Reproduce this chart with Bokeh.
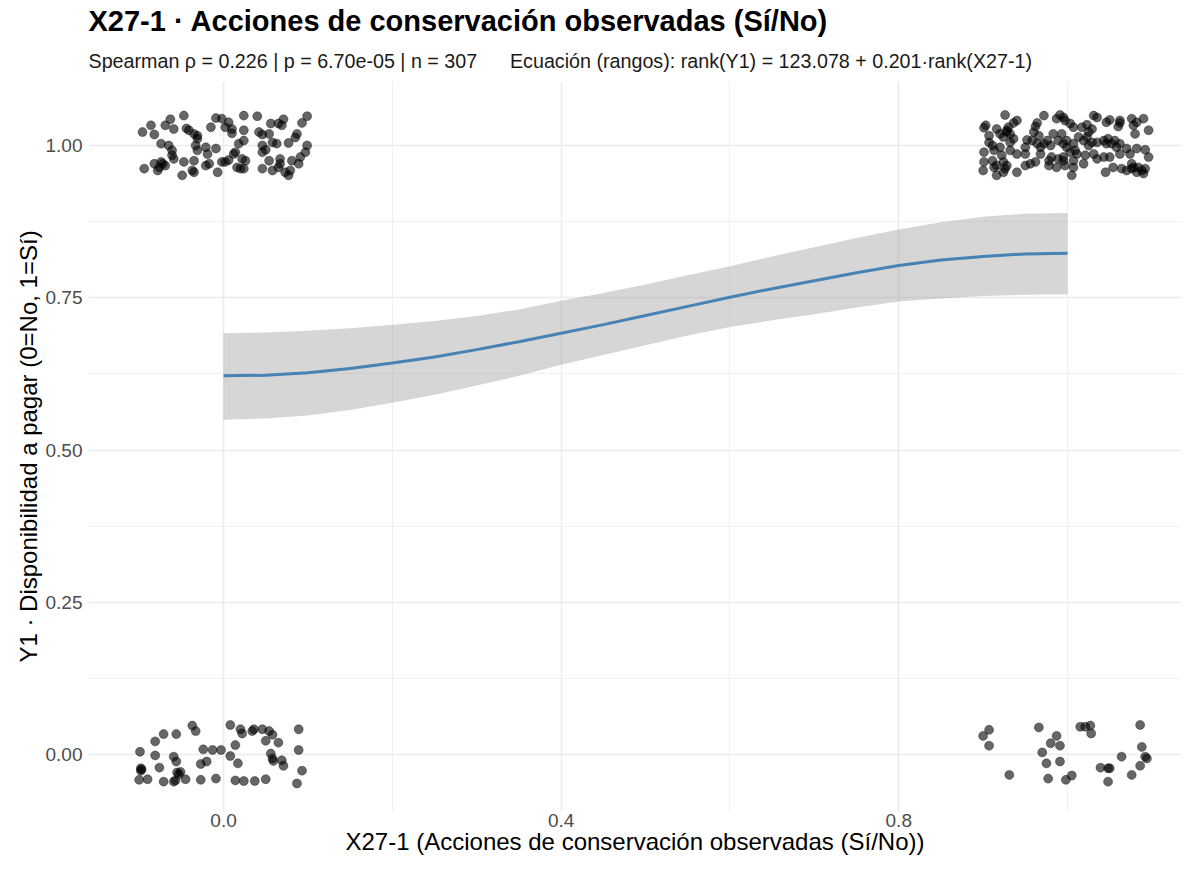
from bokeh.plotting import figure
from bokeh.models import Range1d, FixedTicker, NumeralTickFormatter, Title
from bokeh.embed import file_html
from bokeh.resources import INLINE

# ---------------- data ----------------
title_text = "X27-1 · Acciones de conservación observadas (Sí/No)"
subtitle_text = ("Spearman ρ = 0.226 | p = 6.70e-05 | n = 307"
                 "\u00a0\u00a0\u00a0\u00a0\u00a0\u00a0"
                 "Ecuación (rangos): rank(Y1) = 123.078 + 0.201·rank(X27-1)")
x_label = "X27-1 (Acciones de conservación observadas (Sí/No))"
y_label = "Y1 · Disponibilidad a pagar (0=No, 1=Sí)"

x_ticks = [0.0, 0.4, 0.8]
x_minor = [0.2, 0.6, 1.0]
y_ticks = [0.0, 0.25, 0.5, 0.75, 1.0]
y_minor = [0.125, 0.375, 0.625, 0.875]

# jittered observations: group value + jitter offset
# x=0, y=1
tl_dx = [-0.047, -0.063, -0.009, -0.002, 0.024, 0.040, 0.099, 0.071, 0.065, 0.056,
         0.069, 0.093, 0.006, -0.086, -0.096, -0.082, -0.069, -0.059, -0.044, 0.010,
         0.024, -0.015, 0.002, -0.035, -0.031, -0.041, 0.046, 0.087, 0.085, -0.074,
         -0.065, -0.061, -0.033, -0.031, -0.021, -0.009, 0.018, 0.012, 0.046, 0.058,
         0.063, 0.077, 0.046, 0.050, 0.097, 0.091, 0.081, 0.067, 0.054, 0.022,
         0.026, 0.006, -0.002, -0.017, -0.019, -0.035, -0.047, -0.059, -0.069, -0.076,
         -0.078, -0.094, -0.082, -0.072, -0.037, -0.049, -0.035, -0.007, 0.002, 0.016,
         0.020, 0.024, 0.046, 0.058, 0.065, 0.073, 0.077, 0.079, 0.089, 0.099,
         -0.031, 0.010, -0.074, -0.061, 0.014, 0.042, 0.024, -0.021, 0.067, 0.054]
tl_dy = [0.049, 0.043, 0.045, 0.044, 0.049, 0.048, 0.048, 0.043, 0.036, 0.036,
         0.033, 0.037, 0.038, 0.033, 0.022, 0.018, 0.033, 0.027, 0.028, 0.020,
         0.025, 0.030, 0.030, 0.019, 0.011, 0.025, 0.018, 0.019, 0.013, 0.003,
         0.000, -0.008, 0.000, -0.008, -0.003, -0.005, 0.003, -0.014, 0.000, 0.005,
         0.003, 0.004, -0.011, -0.007, -0.011, -0.019, -0.025, -0.022, -0.025, -0.022,
         -0.025, -0.024, -0.027, -0.030, -0.014, -0.025, -0.027, -0.022, -0.033, -0.036,
         -0.041, -0.038, -0.030, -0.030, -0.041, -0.049, -0.044, -0.044, -0.027, -0.036,
         -0.038, -0.038, -0.038, -0.041, -0.036, -0.044, -0.049, -0.041, -0.030, 0.000,
         0.016, 0.027, -0.027, -0.016, -0.011, 0.022, 0.008, -0.033, -0.030, 0.019]
# x=1, y=1
tr_dx = [-0.074, -0.060, -0.064, -0.028, -0.009, -0.005, 0.003, 0.007, -0.036, -0.038,
         -0.097, -0.099, -0.084, -0.070, -0.072, 0.031, 0.035, 0.046, 0.050, 0.062,
         0.060, 0.076, 0.078, 0.090, 0.080, 0.096, 0.029, 0.025, 0.017, 0.023,
         -0.093, -0.089, -0.076, -0.068, -0.064, -0.048, -0.050, -0.042, -0.040, -0.034,
         -0.028, -0.032, -0.020, -0.017, -0.007, -0.011, -0.005, -0.001, 0.007, 0.011,
         0.003, 0.013, 0.019, 0.025, 0.035, 0.043, 0.048, 0.052, 0.056, 0.062,
         0.070, 0.082, 0.092, 0.096, 0.074, 0.062, -0.099, -0.087, -0.078, -0.068,
         -0.060, -0.050, -0.032, -0.019, -0.022, -0.011, -0.005, 0.007, 0.021, 0.031,
         0.035, 0.043, 0.050, -0.099, -0.089, -0.087, -0.100, -0.084, -0.076, -0.074,
         -0.060, -0.050, -0.044, -0.038, -0.022, -0.013, -0.003, 0.005, 0.007, 0.019,
         0.045, 0.054, 0.064, 0.070, 0.078, 0.082, 0.088, 0.092, 0.076, -0.080,
         -0.072, -0.068, -0.080, -0.076, -0.072, -0.013, -0.003, -0.036, -0.024, -0.001,
         0.009, 0.023, 0.029, 0.046, 0.058, 0.076, 0.084, 0.090, 0.062, 0.082,
         -0.005, -0.084, -0.093]
tr_dy = [0.050, 0.041, 0.037, 0.049, 0.050, 0.046, 0.036, 0.030, 0.037, 0.031,
         0.033, 0.029, 0.027, 0.030, 0.022, 0.049, 0.046, 0.038, 0.042, 0.037,
         0.031, 0.044, 0.033, 0.044, 0.019, 0.025, 0.027, 0.022, 0.030, 0.034,
         0.005, 0.000, 0.014, 0.019, 0.011, 0.009, -0.003, 0.008, 0.022, 0.016,
         0.003, -0.003, 0.000, 0.019, 0.019, 0.008, 0.003, -0.003, 0.003, -0.014,
         -0.011, 0.014, 0.008, 0.000, 0.005, 0.008, 0.011, 0.003, 0.008, 0.003,
         -0.005, -0.005, -0.007, -0.019, -0.014, -0.014, -0.011, -0.008, -0.016, -0.008,
         -0.014, -0.014, -0.014, -0.019, -0.025, -0.022, -0.019, -0.025, -0.016, -0.014,
         -0.022, -0.019, -0.019, -0.027, -0.025, -0.036, -0.041, -0.049, -0.044, -0.038,
         -0.044, -0.033, -0.030, -0.027, -0.033, -0.036, -0.033, -0.049, -0.036, -0.030,
         -0.044, -0.036, -0.038, -0.041, -0.036, -0.044, -0.041, -0.038, -0.030, 0.019,
         0.025, 0.005, -0.003, -0.027, -0.033, 0.044, 0.041, 0.003, 0.008, 0.008,
         -0.008, 0.014, 0.005, 0.003, -0.003, -0.038, -0.036, -0.046, 0.041, 0.038,
         -0.025, -0.033, 0.016]
# x=0, y=0
bl_dx = [-0.037, -0.033, 0.008, 0.020, 0.022, 0.036, 0.034, 0.046, 0.054, 0.058,
         0.050, 0.065, 0.089, -0.071, -0.056, -0.081, -0.099, -0.081, -0.059, -0.056,
         -0.076, -0.098, -0.098, -0.090, -0.100, -0.071, -0.059, -0.057, -0.051, -0.053,
         -0.045, -0.027, -0.020, -0.024, -0.013, -0.003, 0.008, 0.014, 0.017, -0.027,
         -0.009, 0.014, 0.024, 0.037, 0.050, 0.056, 0.058, 0.059, 0.069, 0.071,
         0.089, 0.093, 0.087, -0.097, -0.055]
bl_dy = [0.048, 0.039, 0.049, 0.042, 0.035, 0.042, 0.039, 0.042, 0.039, 0.033,
         0.023, 0.020, 0.042, 0.034, 0.034, 0.022, 0.005, -0.001, -0.003, -0.011,
         -0.021, -0.022, -0.026, -0.040, -0.041, -0.044, -0.044, -0.042, -0.028, -0.032,
         -0.040, -0.015, -0.011, 0.009, 0.008, 0.008, -0.002, 0.016, -0.014, -0.041,
         -0.039, -0.042, -0.043, -0.043, -0.040, 0.002, -0.006, -0.010, -0.009, -0.018,
         0.008, -0.026, -0.047, -0.024, -0.029]
# x=1, y=0
br_dx = [-0.093, -0.100, -0.093, -0.034, -0.013, -0.020, -0.009, -0.030, -0.025, -0.009,
         -0.069, -0.023, -0.002, 0.005, 0.015, 0.021, 0.027, 0.028, 0.039, 0.048,
         0.050, 0.048, 0.064, 0.076, 0.086, 0.088, 0.092, 0.094, 0.086]
br_dy = [0.041, 0.031, 0.015, 0.045, 0.031, 0.019, 0.015, 0.004, -0.014, -0.011,
         -0.033, -0.039, -0.041, -0.034, 0.046, 0.046, 0.048, 0.035, -0.021, -0.022,
         -0.022, -0.044, -0.003, -0.033, 0.049, 0.013, -0.003, -0.006, -0.018]

# smooth fit and its confidence band (read every 0.05)
fit_x = [0.00, 0.05, 0.10, 0.15, 0.20, 0.25, 0.30, 0.35, 0.40, 0.45, 0.50,
         0.55, 0.60, 0.65, 0.70, 0.75, 0.80, 0.85, 0.90, 0.95, 1.00]
fit_y = [0.622, 0.623, 0.627, 0.634, 0.643, 0.653, 0.665, 0.678, 0.692, 0.706, 0.721,
         0.736, 0.751, 0.765, 0.778, 0.791, 0.803, 0.812, 0.818, 0.822, 0.823]
fit_hi = [0.692, 0.693, 0.696, 0.700, 0.706, 0.712, 0.720, 0.731, 0.745, 0.758, 0.772,
          0.787, 0.802, 0.818, 0.833, 0.848, 0.862, 0.874, 0.883, 0.888, 0.889]
fit_lo = [0.550, 0.552, 0.557, 0.566, 0.578, 0.591, 0.606, 0.622, 0.640, 0.656, 0.672,
          0.688, 0.702, 0.713, 0.723, 0.734, 0.744, 0.749, 0.753, 0.755, 0.756]

# ---------------- figure ----------------
FONT = "Liberation Sans"

p = figure(width=1181, height=857, output_backend="svg", toolbar_location=None,
           x_range=Range1d(-0.160, 1.135), y_range=Range1d(-0.093, 1.105),
           min_border_left=88, min_border_right=0, min_border_bottom=0, min_border_top=5)
p.outline_line_color = None
p.background_fill_color = "white"
p.border_fill_color = "white"

sub = Title(text=subtitle_text, text_font=FONT, text_font_size="19.7px",
            text_font_style="normal", text_color="#1a1a1a", align="left", standoff=19)
p.add_layout(sub, "above")
main = Title(text=title_text, text_font=FONT, text_font_size="29px",
             text_font_style="bold", text_color="black", align="left", standoff=4)
p.add_layout(main, "above")

# axes
p.xaxis.ticker = FixedTicker(ticks=x_ticks, minor_ticks=x_minor)
p.yaxis.ticker = FixedTicker(ticks=y_ticks, minor_ticks=y_minor)
p.xaxis.formatter = NumeralTickFormatter(format="0.0")
p.yaxis.formatter = NumeralTickFormatter(format="0.00")
for ax in (p.xaxis, p.yaxis):
    ax.axis_line_color = None
    ax.major_tick_line_color = None
    ax.minor_tick_line_color = None
    ax.major_tick_out = 0
    ax.minor_tick_out = 0
    ax.major_label_text_font = FONT
    ax.major_label_text_font_size = "19px"
    ax.major_label_text_color = "#4d4d4d"
    ax.major_label_text_line_height = 1.0
    ax.axis_label_text_font = FONT
    ax.axis_label_text_font_size = "24px"
    ax.axis_label_text_font_style = "normal"
    ax.axis_label_text_color = "black"
    ax.axis_label_text_line_height = 1.0
p.xaxis.axis_label = x_label
p.yaxis.axis_label = y_label
p.xaxis.major_label_standoff = 2
p.yaxis.major_label_standoff = 6
p.xaxis.axis_label_standoff = -2
p.yaxis.axis_label_standoff = 1

# grids
for g in (p.xgrid, p.ygrid):
    g.grid_line_color = "#ebebeb"
    g.grid_line_width = 1.6
    g.minor_grid_line_color = "#f0f0f0"
    g.minor_grid_line_width = 1

# points
pt_x = [0 + d for d in tl_dx] + [1 + d for d in tr_dx] + [0 + d for d in bl_dx] + [1 + d for d in br_dx]
pt_y = [1 + d for d in tl_dy] + [1 + d for d in tr_dy] + [0 + d for d in bl_dy] + [0 + d for d in br_dy]
p.scatter(pt_x, pt_y, size=9, fill_color="black", fill_alpha=0.6,
          line_color="black", line_alpha=0.6, line_width=0.6)

# smooth
p.varea(x=fit_x, y1=fit_lo, y2=fit_hi, fill_color="#999999", fill_alpha=0.4)
p.line(fit_x, fit_y, line_color="#4682b4", line_width=3)

open("out.html", "w").write(file_html(p, INLINE))
